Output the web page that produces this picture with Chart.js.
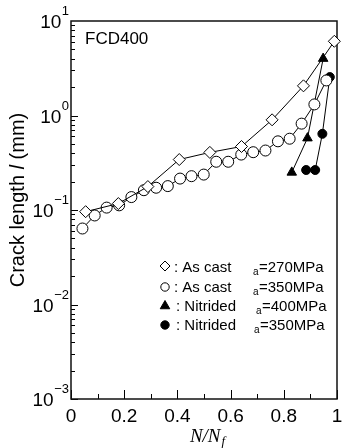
<!DOCTYPE html>
<html>
<head>
<meta charset="utf-8">
<script src="https://cdn.jsdelivr.net/npm/chart.js@4/dist/chart.umd.min.js"></script>
<style>
html,body{margin:0;padding:0;background:#fff;}
#wrap{width:344px;height:448px;position:relative;}
</style>
</head>
<body>
<div id="wrap"><canvas id="c" width="344" height="448"></canvas></div>
<script>
// ---- data ----
const asCast270X = [0.055, 0.178, 0.289, 0.407, 0.522, 0.641, 0.756, 0.874, 0.990];
const asCast270Y = [0.096, 0.117, 0.177, 0.342, 0.407, 0.470, 0.900, 2.06, 6.1];

const asCast350X = [0.043, 0.089, 0.134, 0.181, 0.227, 0.274, 0.320, 0.364, 0.410, 0.453, 0.499,
                    0.546, 0.591, 0.640, 0.685, 0.731, 0.778, 0.822, 0.867, 0.915, 0.960];
const asCast350Y = [0.0637, 0.0875, 0.106, 0.112, 0.137, 0.162, 0.172, 0.179, 0.215, 0.228, 0.237,
                    0.324, 0.324, 0.386, 0.409, 0.426, 0.533, 0.568, 0.820, 1.31, 2.35];

const nitrided400X = [0.830, 0.889, 0.948];
const nitrided400Y = [0.250, 0.576, 4.0];

const nitrided350X = [0.884, 0.918, 0.945, 0.973];
const nitrided350Y = [0.265, 0.265, 0.640, 2.55];

const seriesNames = ['As cast', 'As cast', 'Nitrided', 'Nitrided'];
const stressLabels = ['=270MPa', '=350MPa', '=400MPa', '=350MPa'];

const xTickValues = [0, 0.2, 0.4, 0.6, 0.8, 1];
const xTickLabels = ['0', '0.2', '0.4', '0.6', '0.8', '1'];
const yTickExps = [1, 0, -1, -2, -3];

const panelLabel = 'FCD400';
const yTitle = ['Crack length ', 'l', ' (mm)'];

function pts(xs, ys){ return xs.map((v,i)=>({x:v, y:ys[i]})); }

const SANS = '"Liberation Sans", Arial, Helvetica, sans-serif';
const SERIF = '"Liberation Serif", "Times New Roman", serif';

const styles = [
  {pointStyle:'rectRot', r:6,   fill:'#fff'},
  {pointStyle:'circle',  r:5.5, fill:'#fff'},
  {pointStyle:'triangle',r:5.5, fill:'#000'},
  {pointStyle:'circle',  r:4.5, fill:'#000'}
];
const dataSets = [pts(asCast270X, asCast270Y), pts(asCast350X, asCast350Y),
                  pts(nitrided400X, nitrided400Y), pts(nitrided350X, nitrided350Y)];

function drawMarker(ctx, style, x, y, r, fill){
  ctx.beginPath();
  if (style === 'rectRot'){
    ctx.moveTo(x, y-r); ctx.lineTo(x+r, y); ctx.lineTo(x, y+r); ctx.lineTo(x-r, y); ctx.closePath();
  } else if (style === 'triangle'){
    ctx.moveTo(x, y-r); ctx.lineTo(x+r*0.866, y+r*0.5); ctx.lineTo(x-r*0.866, y+r*0.5); ctx.closePath();
  } else {
    ctx.arc(x, y, r, 0, Math.PI*2);
  }
  ctx.fillStyle = fill; ctx.fill();
  ctx.strokeStyle = '#000'; ctx.lineWidth = 1; ctx.stroke();
}

const deco = {
  id: 'deco',
  beforeDatasetsDraw(chart){
    const {ctx, chartArea:a, scales:{x, y}} = chart;
    ctx.save();
    ctx.strokeStyle = '#000';
    ctx.lineWidth = 1;
    // x ticks (inward)
    for (let i = 0; i <= 10; i++){
      const px = Math.round(x.getPixelForValue(i/10)) + 0.5;
      const len = (i % 2 === 0) ? 9 : 5;
      ctx.beginPath(); ctx.moveTo(px, a.bottom); ctx.lineTo(px, a.bottom - len); ctx.stroke();
    }
    // y ticks (inward)
    for (let e = -3; e <= 0; e++){
      for (let m = 1; m <= 9; m++){
        const py = Math.round(y.getPixelForValue(m * Math.pow(10, e))) + 0.5;
        const len = (m === 1) ? 7 : 4;
        ctx.beginPath(); ctx.moveTo(a.left, py); ctx.lineTo(a.left + len, py); ctx.stroke();
      }
    }
    // frame
    ctx.lineWidth = 1.5;
    ctx.strokeStyle = '#111';
    ctx.strokeRect(a.left, a.top, a.right - a.left, a.bottom - a.top);
    ctx.restore();
  },
  afterDraw(chart){
    const {ctx, chartArea:a, scales:{x, y}} = chart;
    ctx.save();
    ctx.fillStyle = '#000';
    // x tick labels
    ctx.font = '19px ' + SANS;
    ctx.textAlign = 'center'; ctx.textBaseline = 'alphabetic';
    xTickValues.forEach((v, i) => {
      ctx.fillText(xTickLabels[i], x.getPixelForValue(v), a.bottom + 23);
    });
    // y tick labels 10^n
    yTickExps.forEach(e => {
      const py = y.getPixelForValue(Math.pow(10, e));
      const sup = (e < 0 ? '\u2212' : '') + Math.abs(e);
      ctx.font = '13px ' + SANS;
      const sw = ctx.measureText(sup).width;
      const right = a.left - 2;
      ctx.textAlign = 'left';
      ctx.fillText(sup, right - sw, py - 6);
      ctx.font = '19px ' + SANS;
      ctx.textAlign = 'right';
      ctx.fillText('10', right - sw - 0.5, py + 7);
    });
    // y axis title
    ctx.save();
    ctx.translate(24, 200);
    ctx.rotate(-Math.PI / 2);
    ctx.textAlign = 'left';
    const fN = '20px ' + SANS, fI = 'italic 20px ' + SANS;
    ctx.font = fN; const w0 = ctx.measureText(yTitle[0]).width;
    ctx.font = fI; const w1 = ctx.measureText(yTitle[1]).width;
    ctx.font = fN; const w2 = ctx.measureText(yTitle[2]).width;
    let sx = -(w0 + w1 + w2) / 2;
    ctx.font = fN; ctx.fillText(yTitle[0], sx, 0); sx += w0;
    ctx.font = fI; ctx.fillText(yTitle[1], sx, 0); sx += w1;
    ctx.font = fN; ctx.fillText(yTitle[2], sx, 0);
    ctx.restore();
    // x axis title N/N_f
    ctx.font = 'italic 19px ' + SERIF;
    ctx.textAlign = 'left';
    const t1 = 'N/N';
    const tw = ctx.measureText(t1).width;
    ctx.font = 'italic 13px ' + SERIF;
    const fw = ctx.measureText('f').width;
    const cx = (a.left + a.right) / 2 + 3;
    const start = cx - (tw + fw) / 2;
    ctx.font = 'italic 19px ' + SERIF;
    ctx.fillText(t1, start, a.bottom + 43);
    ctx.font = 'italic 13px ' + SERIF;
    ctx.fillText('f', start + tw + 1, a.bottom + 46);
    // panel label
    ctx.font = '17px ' + SANS;
    ctx.fillText(panelLabel, a.left + 14, a.top + 23);
    // legend
    const mY = [266, 287, 306, 325];
    const bY = [272, 292, 311, 330];
    const colonX = [174, 174, 176, 176];
    const subX = [253, 253, 256, 254];
    const eqX = [259, 259, 262, 260];
    const lr = [5, 4.2, 5.5, 4.2];
    for (let i = 0; i < 4; i++){
      drawMarker(ctx, styles[i].pointStyle, 165, mY[i], lr[i], styles[i].fill);
      ctx.fillStyle = '#000';
      ctx.font = '15px ' + SANS;
      ctx.textAlign = 'left';
      ctx.fillText(': ' + seriesNames[i], colonX[i], bY[i]);
      ctx.font = '10px ' + SANS;
      ctx.fillText('a', subX[i], bY[i] + 3);
      ctx.font = '15px ' + SANS;
      ctx.fillText(stressLabels[i], eqX[i], bY[i]);
    }
    ctx.restore();
  }
};

new Chart(document.getElementById('c'), {
  type: 'scatter',
  data: {
    datasets: dataSets.map((d, i) => ({
      data: d,
      showLine: true,
      borderColor: '#000',
      borderWidth: 1,
      pointStyle: styles[i].pointStyle,
      pointRadius: styles[i].r,
      pointBackgroundColor: styles[i].fill,
      pointBorderColor: '#000',
      pointBorderWidth: 1,
      clip: false
    }))
  },
  options: {
    responsive: false,
    devicePixelRatio: 1,
    animation: false,
    layout: {padding: {left: 71, top: 21, right: 3, bottom: 49}},
    plugins: {legend: {display: false}, tooltip: {enabled: false}},
    scales: {
      x: {type: 'linear', min: 0, max: 1, display: false},
      y: {type: 'logarithmic', min: 0.001, max: 10, display: false}
    }
  },
  plugins: [deco]
});
</script>
</body>
</html>
